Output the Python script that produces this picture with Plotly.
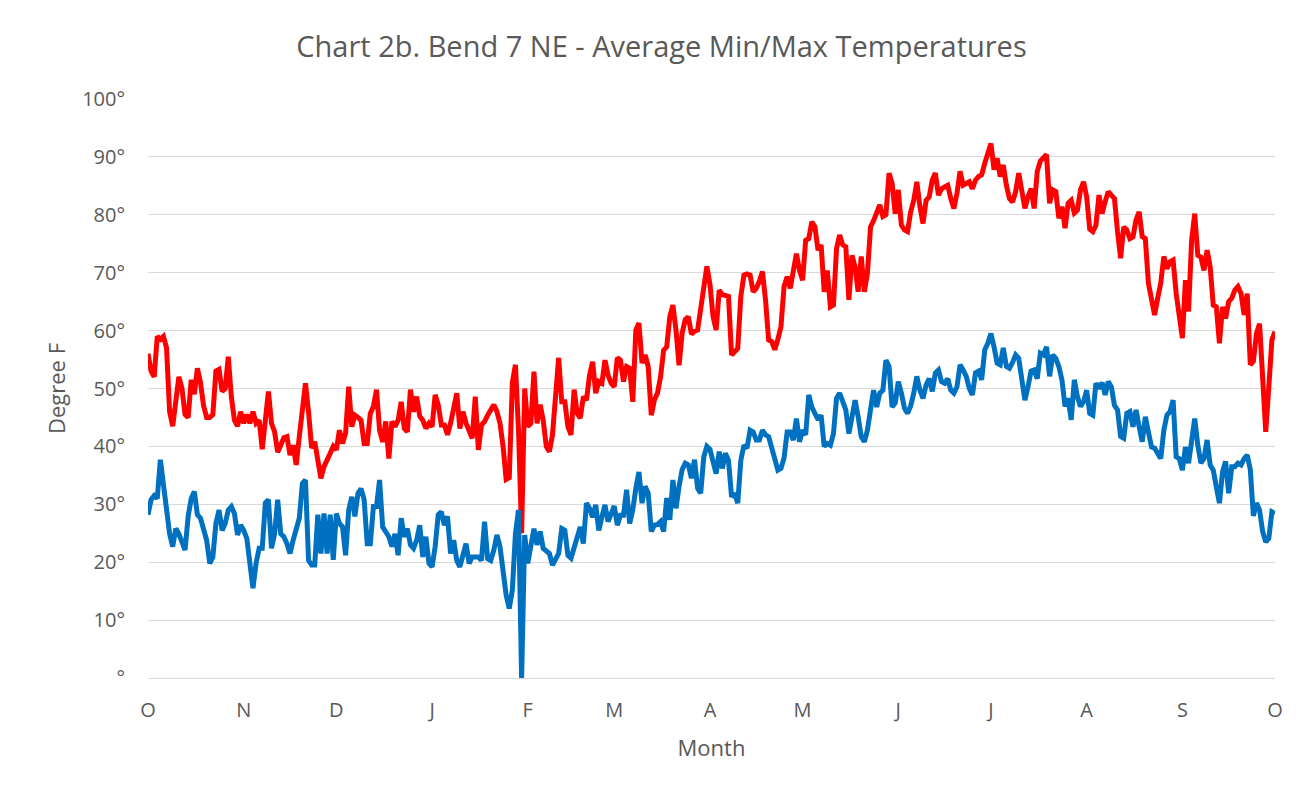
import plotly.graph_objects as go

# Daily average max / min temperatures, Oct 1 .. Oct 1
max_temps = [
    56, 53, 52, 59, 58.5, 59, 57, 46, 43.5, 48,
    52, 50, 45.5, 45, 51.5, 49, 53.5, 51, 47, 45,
    45, 45.5, 53, 53.3, 49.5, 50, 55.5, 48.5, 44.5, 43.5,
    46, 44, 45.5, 44, 46, 44, 44.5, 39.5, 45, 49.5,
    44, 42.5, 39, 40.5, 41.5, 41.7, 38.5, 40.2, 36.8, 41.7,
    46.9, 50.9, 45.9, 39.7, 40.8, 38, 34.5, 36.5, 37.5, 38.8,
    40, 39.4, 42.8, 40.5, 42.3, 50.3, 43.4, 45.4, 45, 44.5,
    40.5, 40.5, 45.7, 46.9, 49.8, 42.8, 40.8, 44.3, 37.9, 44.3,
    43.4, 44.5, 47.7, 43.1, 42.5, 49.8, 46, 48.6, 45.2, 44.5,
    43.1, 44, 43.4, 48.9, 47.2, 43.7, 43.7, 42, 44, 46.3,
    49.2, 43.1, 46, 44, 42.5, 41.4, 48.6, 39.4, 43.7, 44.3,
    45.4, 46.5, 47.2, 46, 44, 40, 34.3, 34.6, 51, 54.1,
    42.8, 25, 50, 43.4, 44, 52.9, 44, 47.2, 44.5, 40,
    39.1, 42, 49.2, 55.3, 47.7, 47.7, 43.4, 42, 49.8, 45.7,
    44.9, 48.6, 48, 52.3, 54.6, 49.2, 51.2, 50.9, 54.9, 52.3,
    50.9, 50.3, 55.3, 54.9, 51.2, 53.8, 53.5, 47.7, 60.1, 61.3,
    54.4, 55.8, 53.8, 45.4, 48, 49.2, 52, 56.6, 57.2, 62.4,
    64.4, 60.1, 54, 59.6, 61.9, 62.4, 59.4, 59.9, 60.1, 64,
    67.6, 71.1, 68, 62.4, 60.1, 67, 66.2, 66, 65.9, 55.8,
    56.4, 56.9, 65.9, 69.6, 69.8, 69.6, 66.7, 67.3, 68.5, 70.2,
    65.3, 58.4, 58.1, 56.7, 58.5, 60.7, 67.6, 69.3, 67.3, 70.4,
    73.3, 70.4, 68.7, 75.6, 75.9, 78.8, 77.9, 73.9, 74.8, 66.7,
    70.4, 64.1, 64.4, 74.2, 76.5, 74.8, 74.5, 65.3, 73, 71,
    66.7, 72.8, 66.7, 69.9, 77.9, 79, 80.5, 81.7, 79.7, 80,
    87.2, 85.4, 80.2, 84.3, 78.2, 77.4, 77.1, 80.5, 82.5, 85.7,
    81.4, 78.5, 82.5, 83.1, 86, 87.2, 83.4, 84.5, 84.8, 85.1,
    82.8, 81.1, 83.7, 87.5, 85.1, 85.5, 85.7, 84.5, 86, 86.6,
    86.9, 88.9, 90.9, 92.3, 87.8, 89.8, 86.6, 88.6, 85.1, 82.8,
    82.2, 84, 87.2, 84.3, 81.1, 83.1, 84.5, 81.1, 87.5, 89.3,
    89.8, 90.4, 82, 84.3, 84, 79.4, 81.4, 77.7, 82, 82.5,
    80.3, 80.8, 84.3, 85.7, 83.1, 77.5, 77.1, 78.2, 83.4, 80.2,
    82.3, 84, 83.4, 82.8, 77.1, 72.5, 77.9, 77.4, 75.9, 76.2,
    79.1, 80.5, 76.2, 75.9, 68.2, 65.3, 62.7, 65.6, 68.2, 72.8,
    70.7, 71.9, 72.2, 66.4, 61.8, 58.7, 68.7, 63.3, 75.6, 80.2,
    73, 72.7, 70.4, 73.9, 71, 64.4, 64.1, 57.8, 64.1, 62.1,
    65, 65.6, 67, 67.6, 66.4, 62.7, 66.4, 54.1, 54.7, 59.5,
    61.2, 51.4, 42.5, 50.3, 58.4, 59.8,
]

min_temps = [
    28.2, 30.8, 31.5, 31, 37.7, 33.6, 29.6, 24.9, 22.7, 25.8,
    24.9, 23.2, 22.1, 27.9, 31, 32.2, 28.2, 27.6, 25.8, 23.8,
    19.8, 20.9, 26.7, 29, 25.5, 26.7, 29, 29.6, 28.4, 24.7,
    26.4, 25.5, 24.1, 20.3, 15.5, 19.8, 22.4, 22.4, 30.2, 30.8,
    22.4, 24.9, 30.8, 24.9, 24.4, 23.2, 21.5, 23.8, 25.5, 27.6,
    33.6, 34.2, 20.3, 19.5, 19.5, 28.2, 21.5, 28.4, 21.5, 28.2,
    20.4, 28.4, 26.7, 26.1, 21.2, 29, 31.3, 27.9, 31.9, 32.7,
    30.8, 23.2, 23.2, 29.6, 29.6, 34.2, 26.1, 25.3, 24.4, 22.7,
    24.9, 21.2, 27.6, 24.4, 25.8, 23, 22.4, 23.8, 26.4, 20.9,
    24.4, 19.8, 19.2, 22.7, 28.2, 28.7, 26.4, 27.9, 21.5, 23.8,
    20.3, 19.2, 21.5, 23.2, 19.8, 20.9, 20.9, 20.9, 20.3, 27,
    20.6, 20.3, 22.1, 24.7, 22.7, 18.6, 14.3, 12, 15.2, 24.9,
    29, 0, 24.7, 19.8, 23.2, 25.8, 23, 25.3, 22.4, 21.8,
    21.5, 19.5, 20.5, 21.5, 25.8, 25.5, 21.2, 20.7, 22.5, 24.4,
    26.1, 23.2, 30.2, 29.3, 27.8, 29.9, 25.5, 27.8, 29.9, 27,
    28.4, 29.7, 26.4, 28.1, 28.1, 32.5, 26.7, 29, 32.8, 35.6,
    30.2, 33.1, 31.9, 25.3, 26.4, 26.5, 27, 25.3, 31.1, 27.3,
    34.2, 29.3, 33.1, 36, 37.1, 36.8, 34.5, 37.7, 32.8, 31.9,
    38.2, 40, 39.5, 37.6, 35.3, 39.1, 36.2, 38.8, 37.6, 31.3,
    31.9, 30.2, 37.6, 40.2, 39.7, 42.8, 42.5, 41.1, 41.1, 42.8,
    42, 41.7, 40, 38.2, 35.9, 36.2, 38, 42.5, 42.5, 41.1,
    44.8, 40.8, 42.8, 42, 48.9, 46.8, 45.4, 44.6, 45.4, 40,
    40.5, 40.2, 42.2, 48.3, 49.2, 48, 46.3, 42.2, 45.4, 48,
    45.1, 41.7, 40.8, 42.8, 46.3, 49.7, 46.8, 49.2, 49.7, 54.9,
    53.8, 46.8, 47.5, 51.2, 49.2, 46.6, 45.7, 47, 49.2, 52.1,
    49.7, 48.3, 50.6, 51.7, 49.5, 52.7, 53.2, 51.2, 50.9, 51.7,
    49.7, 49.2, 50.3, 54.1, 53.2, 52.1, 50, 48.9, 52.7, 53,
    51.5, 56.7, 57.8, 59.5, 57.2, 54.4, 54.1, 57, 53.8, 53.5,
    54.5, 55.8, 55.2, 51, 48, 50.3, 53, 53.2, 51.7, 56.1,
    55.8, 57.2, 52.1, 55.8, 55.2, 53.8, 51.5, 46.9, 48.3, 44.6,
    51.5, 48.6, 46.9, 47.7, 49.7, 45.7, 45.4, 50.9, 50, 51,
    48.9, 51.2, 50.3, 47.1, 46.3, 41.7, 41.4, 45.7, 46, 43.4,
    46.3, 43.4, 40.8, 45.1, 42.8, 39.9, 39.7, 38.8, 37.9, 42.8,
    45.4, 46, 48, 38.2, 37.9, 35.9, 39.9, 37.1, 41.1, 44.8,
    40.2, 37.1, 37.9, 41.1, 36.8, 35.9, 33, 30.2, 35.6, 37.4,
    31.9, 36.5, 36.5, 37.1, 36.8, 37.9, 38.5, 36, 28, 30.2,
    29, 25.3, 23.5, 24.1, 28.7, 28.4,
]

month_labels = ["O", "N", "D", "J", "F", "M", "A", "M", "J", "J", "A", "S", "O"]
month_lengths = [31, 30, 31, 31, 28, 31, 30, 31, 30, 31, 31, 30]

y_tick_values = [0, 10, 20, 30, 40, 50, 60, 70, 80, 90, 100]
y_tick_labels = ["°", "10°", "20°", "30°", "40°", "50°", "60°", "70°", "80°", "90°", "100°"]

days = list(range(len(max_temps)))
month_starts = [0]
for n in month_lengths:
    month_starts.append(month_starts[-1] + n)

FONT = "Open Sans"
GREY = "#595959"

fig = go.Figure()
fig.add_trace(go.Scatter(x=days, y=max_temps, mode="lines", name="Max",
                         line=dict(color="#FF0000", width=5)))
fig.add_trace(go.Scatter(x=days, y=min_temps, mode="lines", name="Min",
                         line=dict(color="#0070C0", width=5)))

fig.update_layout(
    width=1307, height=791,
    paper_bgcolor="white", plot_bgcolor="white",
    showlegend=False,
    margin=dict(l=140, r=40, t=91, b=121),
    title=dict(text="Chart 2b. Bend 7 NE - Average Min/Max Temperatures",
               x=0.5, xanchor="center", y=1 - 39 / 791, yanchor="middle",
               font=dict(family=FONT, size=29, color=GREY)),
    font=dict(family=FONT, color=GREY),
)
fig.update_xaxes(
    range=[0, 365],
    tickmode="array", tickvals=month_starts, ticktext=month_labels,
    tickfont=dict(size=20, color=GREY),
    showgrid=False, zeroline=False,
    showline=True, linecolor="#D9D9D9", linewidth=1,
    ticks="", ticklabelstandoff=14,
    title=dict(text="Month", font=dict(size=22, color=GREY), standoff=18),
)
fig.update_yaxes(
    range=[0, 100],
    tickmode="array", tickvals=y_tick_values, ticktext=y_tick_labels,
    tickfont=dict(size=20, color=GREY),
    showgrid=True, gridcolor="#D9D9D9", gridwidth=1.3,
    zeroline=False, showline=False, ticks="", ticklabelstandoff=22,
    title=dict(text="Degree F", font=dict(size=22, color=GREY), standoff=10),
)

fig.write_html("out.html")
